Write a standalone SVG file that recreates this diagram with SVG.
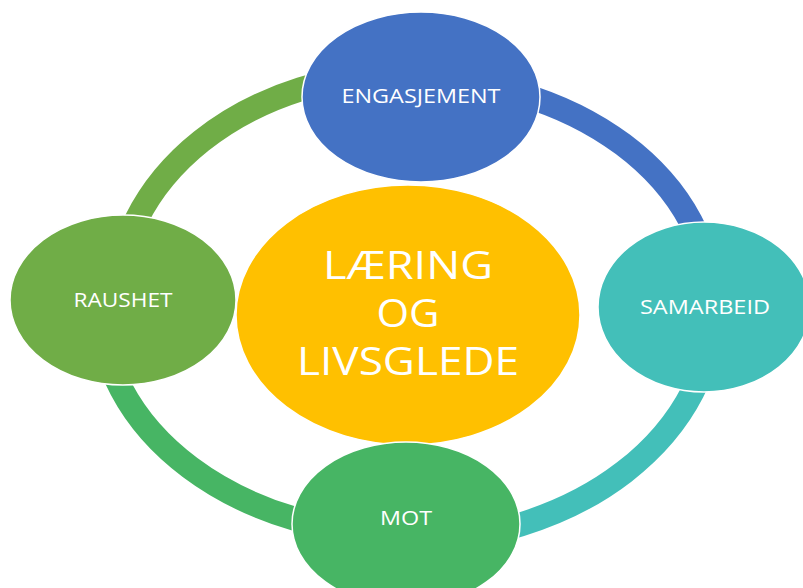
<svg xmlns="http://www.w3.org/2000/svg" width="803" height="588" viewBox="0 0 803 588">
<style>
.arc{fill:none;stroke-width:24}
.node{stroke:#ffffff;stroke-width:1.5}
.lbl{font-family:"Open Sans","Liberation Sans",sans-serif;fill:#ffffff;font-size:20px;text-anchor:middle}
.big{font-size:39px}
</style>
<rect width="803" height="588" fill="#ffffff"/>
<g id="connectors">
<path class="arc" stroke="#70AD47" d="M116,305 A292,232 0 0 1 408,73"/>
<path class="arc" stroke="#4472C4" d="M408,78 A304,227 0 0 1 712,305"/>
<path class="arc" stroke="#43BFB9" d="M714,305 A306,236 0 0 1 408,541"/>
<path class="arc" stroke="#47B564" d="M408,535 A308,230 0 0 1 100,305"/>
</g>
<g id="center">
<ellipse class="node" cx="408" cy="315" rx="172" ry="130" fill="#FFC000"/>
<text class="lbl big" x="408" y="279" textLength="170" lengthAdjust="spacingAndGlyphs">LÆRING</text>
<text class="lbl big" x="408" y="327" textLength="63" lengthAdjust="spacingAndGlyphs">OG</text>
<text class="lbl big" x="408" y="375" textLength="222" lengthAdjust="spacingAndGlyphs">LIVSGLEDE</text>
</g>
<g id="engasjement">
<ellipse class="node" cx="421" cy="97" rx="119" ry="85" fill="#4472C4"/>
<text class="lbl" x="421" y="103" textLength="159" lengthAdjust="spacingAndGlyphs">ENGASJEMENT</text>
</g>
<g id="samarbeid">
<ellipse class="node" cx="704" cy="307" rx="106" ry="85" fill="#43BFB9"/>
<text class="lbl" x="705" y="314" textLength="130" lengthAdjust="spacingAndGlyphs">SAMARBEID</text>
</g>
<g id="mot">
<ellipse class="node" cx="406" cy="524" rx="114" ry="82" fill="#47B564"/>
<text class="lbl" x="406" y="525" textLength="52" lengthAdjust="spacingAndGlyphs">MOT</text>
</g>
<g id="raushet">
<ellipse class="node" cx="123" cy="300" rx="113" ry="85" fill="#70AD47"/>
<text class="lbl" x="123" y="307" textLength="99" lengthAdjust="spacingAndGlyphs">RAUSHET</text>
</g>
</svg>
